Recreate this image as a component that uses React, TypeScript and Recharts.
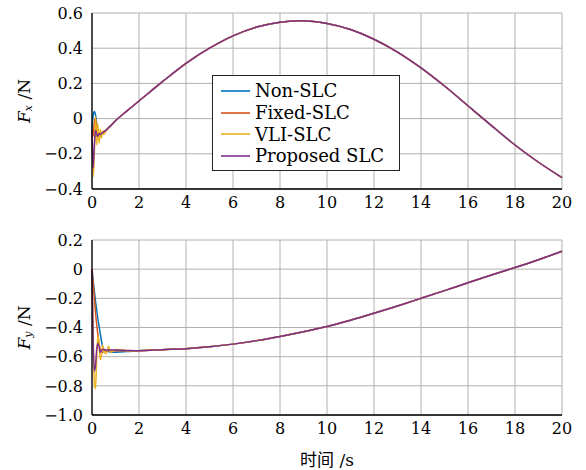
import React from 'react';
import { LineChart, Line, XAxis, YAxis, CartesianGrid, Legend } from 'recharts';

// time samples: dense during the start-up transient, then 1 s steps
const timeHead = [0, 0.05, 0.1, 0.15, 0.2, 0.25, 0.3, 0.35, 0.4, 0.45, 0.5, 0.6, 0.7, 0.8, 1.0, 1.5];
const timeTail = [2, 3, 4, 5, 6, 7, 8, 9, 10, 11, 12, 13, 14, 15, 16, 17, 18, 19, 20];

// Fx transient part, one per controller
const fxNonHead = [-0.06, 0.02, 0.04, 0.02, -0.03, -0.07, -0.09, -0.09, -0.085, -0.08, -0.075, -0.065, -0.052, -0.04, -0.012, 0.045];
const fxFixedHead = [-0.06, -0.1, -0.02, 0.0, -0.06, -0.1, -0.08, -0.09, -0.085, -0.08, -0.075, -0.065, -0.052, -0.04, -0.012, 0.045];
const fxVliHead = [-0.06, -0.33, -0.2, 0.01, -0.15, -0.03, -0.14, -0.06, -0.11, -0.07, -0.09, -0.07, -0.055, -0.04, -0.012, 0.045];
const fxPropHead = [-0.06, -0.28, -0.15, -0.065, -0.09, -0.1, -0.085, -0.09, -0.085, -0.08, -0.076, -0.066, -0.053, -0.04, -0.012, 0.045];
// Fx after the transient (all four overlap)
const fxTail = [0.1, 0.21, 0.314, 0.4, 0.47, 0.52, 0.548, 0.556, 0.54, 0.506, 0.451, 0.378, 0.288, 0.185, 0.073, -0.04, -0.15, -0.248, -0.335];

// Fy transient part
const fyNonHead = [0, -0.08, -0.15, -0.22, -0.28, -0.34, -0.39, -0.44, -0.49, -0.53, -0.55, -0.56, -0.565, -0.57, -0.57, -0.565];
const fyFixedHead = [0, -0.1, -0.2, -0.3, -0.38, -0.45, -0.51, -0.55, -0.57, -0.57, -0.565, -0.56, -0.56, -0.56, -0.56, -0.56];
const fyVliHead = [0, -0.45, -0.78, -0.82, -0.6, -0.46, -0.5, -0.62, -0.6, -0.52, -0.56, -0.58, -0.53, -0.57, -0.55, -0.56];
const fyPropHead = [0, -0.5, -0.7, -0.66, -0.55, -0.51, -0.53, -0.57, -0.56, -0.55, -0.55, -0.555, -0.555, -0.555, -0.555, -0.557];
const fyTail = [-0.559, -0.552, -0.545, -0.532, -0.514, -0.49, -0.461, -0.429, -0.393, -0.35, -0.302, -0.252, -0.2, -0.147, -0.093, -0.04, 0.011, 0.065, 0.123];

const xTicks = [0, 2, 4, 6, 8, 10, 12, 14, 16, 18, 20];
const fxTicks = [-0.4, -0.2, 0, 0.2, 0.4, 0.6];
const fyTicks = [-1.0, -0.8, -0.6, -0.4, -0.2, 0, 0.2];

const series = [
  { key: 'non', name: 'Non-SLC', color: '#0072BD' },
  { key: 'fixed', name: 'Fixed-SLC', color: '#D95319' },
  { key: 'vli', name: 'VLI-SLC', color: '#EDB120' },
  { key: 'prop', name: 'Proposed SLC', color: '#7E2F8E' },
];

const time = [...timeHead, ...timeTail];
const build = (heads: number[][], tail: number[]) =>
  time.map((t, i) => {
    const row: Record<string, number> = { t };
    series.forEach((s, k) => {
      row[s.key] = i < timeHead.length ? heads[k][i] : tail[i - timeHead.length];
    });
    return row;
  });

const fxData = build([fxNonHead, fxFixedHead, fxVliHead, fxPropHead], fxTail);
const fyData = build([fyNonHead, fyFixedHead, fyVliHead, fyPropHead], fyTail);

const SERIF = 'DejaVu Serif';
const tickStyle = { fontSize: 16, fill: '#000', style: { fontFamily: SERIF } };
const fmtY = (v: number) => (v === 0 ? '0' : (v < 0 ? '\u2212' : '') + Math.abs(v).toFixed(1));

const yLabel = (sub: string) => (props: any) => {
  const vb = props.viewBox || {};
  const cx = 24;
  const cy = vb.y + vb.height / 2;
  return (
    <text
      x={cx}
      y={cy}
      transform={`rotate(-90, ${cx}, ${cy})`}
      textAnchor="middle"
      dominantBaseline="central"
      style={{ fontFamily: SERIF, fontSize: 17 }}
      fill="#000"
    >
      <tspan fontStyle="italic">F</tspan>
      <tspan fontStyle="italic" style={{ fontSize: 11 }} dy={4}>{sub}</tspan>
      <tspan dy={-4}> /N</tspan>
    </text>
  );
};

const xLabel = (props: any) => {
  const vb = props.viewBox || {};
  const cx = vb.x + vb.width / 2;
  const y = vb.y + vb.height + 21;
  return (
    <text x={cx} y={y} textAnchor="middle" fill="#000" style={{ fontSize: 17 }}>
      <tspan style={{ fontFamily: 'Noto Sans CJK SC' }}>时间</tspan>
      <tspan style={{ fontFamily: SERIF }}> /s</tspan>
    </text>
  );
};

const LegendBox = () => (
  <div
    style={{
      border: '1.3px solid #262626',
      background: '#fff',
      padding: '4px 8px 3px 8px',
      fontFamily: SERIF,
      fontSize: 18,
      lineHeight: '21.8px',
      width: 188,
      boxSizing: 'border-box',
    }}
  >
    {series.map((s) => (
      <div key={s.key} style={{ display: 'flex', alignItems: 'center', whiteSpace: 'nowrap' }}>
        <svg width={29} height={4} style={{ marginRight: 5, flex: 'none' }}>
          <line x1={0} y1={2} x2={29} y2={2} stroke={s.color} strokeWidth={1.6} />
        </svg>
        <span>{s.name}</span>
      </div>
    ))}
  </div>
);

const Panel: React.FC<{ data: any[]; ticks: number[]; domain: [number, number]; sub: string; height: number; bottom: number; withLegend?: boolean; withXLabel?: boolean }> = ({ data, ticks, domain, sub, height, bottom, withLegend, withXLabel }) => (
  <LineChart width={586} height={height} data={data} margin={{ top: 13, right: 24, bottom, left: 0 }}>
    <CartesianGrid stroke="#b0b0b0" strokeWidth={1} />
    <XAxis
      dataKey="t"
      type="number"
      domain={[0, 20]}
      ticks={xTicks}
      height={30}
      tickSize={0}
      tickMargin={8}
      tick={tickStyle}
      axisLine={{ stroke: '#000', strokeWidth: 1.3 }}
      tickLine={false}
      label={withXLabel ? xLabel : undefined}
    />
    <XAxis xAxisId="top" orientation="top" dataKey="t" type="number" domain={[0, 20]} height={0} tick={false} tickLine={false} axisLine={{ stroke: '#000', strokeWidth: 1.3 }} />
    <YAxis
      type="number"
      domain={domain}
      ticks={ticks}
      width={92}
      tickSize={0}
      tickMargin={9}
      tick={tickStyle}
      tickFormatter={fmtY}
      axisLine={{ stroke: '#000', strokeWidth: 1.3 }}
      tickLine={false}
      label={yLabel(sub)}
    />
    <YAxis yAxisId="right" orientation="right" domain={domain} width={0} tick={false} tickLine={false} axisLine={{ stroke: '#000', strokeWidth: 1.3 }} />
    {withLegend && (
      <Legend
        layout="vertical"
        align="center"
        verticalAlign="middle"
        content={() => <LegendBox />}
        wrapperStyle={{ left: 212, top: 75, width: 'auto' }}
      />
    )}
    {series.map((s) => (
      <Line
        key={s.key}
        type="monotone"
        dataKey={s.key}
        name={s.name}
        stroke={s.color}
        strokeWidth={1.5}
        dot={false}
        isAnimationActive={false}
      />
    ))}
  </LineChart>
);

export default function App() {
  return (
    <div style={{ position: 'absolute', left: 0, top: 0, width: 586, height: 470, background: '#fff', fontFamily: SERIF }}>
      <div style={{ position: 'absolute', left: 0, top: 0 }}>
        <Panel data={fxData} ticks={fxTicks} domain={[-0.4, 0.6]} sub="x" height={236} bottom={17} withLegend />
      </div>
      <div style={{ position: 'absolute', left: 0, top: 227 }}>
        <Panel data={fyData} ticks={fyTicks} domain={[-1.0, 0.2]} sub="y" height={243} bottom={25} withXLabel />
      </div>
    </div>
  );
}
